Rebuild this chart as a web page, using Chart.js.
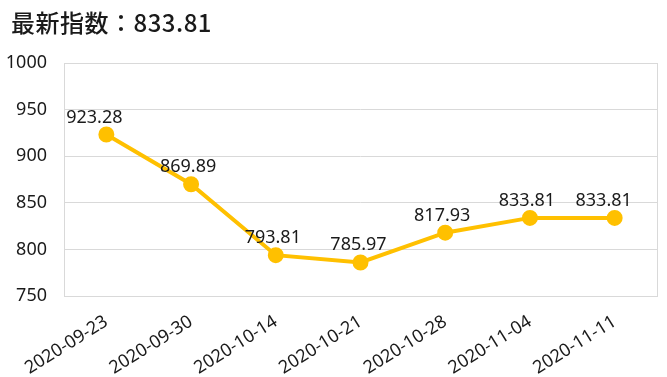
<!DOCTYPE html>
<html>
<head>
<meta charset="utf-8">
<script src="https://cdn.jsdelivr.net/npm/chart.js@4/dist/chart.umd.min.js"></script>
<style>
  html, body { margin: 0; padding: 0; background: #fff; }
  #wrap { width: 667px; height: 377px; position: relative; }
</style>
</head>
<body>
<div id="wrap"><canvas id="c" width="667" height="377"></canvas></div>
<script>
const titleText = "最新指数：833.81";
const categories = ["2020-09-23", "2020-09-30", "2020-10-14", "2020-10-21", "2020-10-28", "2020-11-04", "2020-11-11"];
const indexValues = [923.28, 869.89, 793.81, 785.97, 817.93, 833.81, 833.81];
const yTicks = [750, 800, 850, 900, 950, 1000];

const FONT = '"Noto Sans", "Noto Sans CJK SC", sans-serif';
const TITLE_FONT = '"Noto Sans CJK JP", "Noto Sans CJK SC", sans-serif';
const LINE_COLOR = '#FFC000';

// horizontal nudges of the value labels (pixels), as placed in the original
const labelNudge = [-12, -3, -3, -2, -3, -3, -11];

const labelPlugin = {
  id: 'pointLabels',
  afterDatasetsDraw(chart) {
    const ctx = chart.ctx;
    const meta = chart.getDatasetMeta(0);
    ctx.save();
    ctx.font = '18px ' + FONT;
    ctx.fillStyle = '#1a1a1a';
    ctx.textAlign = 'center';
    ctx.textBaseline = 'alphabetic';
    meta.data.forEach((pt, i) => {
      ctx.fillText(indexValues[i].toFixed(2), pt.x + labelNudge[i], pt.y - 12);
    });
    ctx.restore();
  }
};

const titlePlugin = {
  id: 'topTitle',
  afterDraw(chart) {
    const ctx = chart.ctx;
    ctx.save();
    ctx.font = '500 24px ' + TITLE_FONT;
    if ('letterSpacing' in ctx) ctx.letterSpacing = '0.5px';
    ctx.fillStyle = '#1a1a1a';
    ctx.textAlign = 'left';
    ctx.textBaseline = 'middle';
    ctx.fillText(titleText, 11, 23);
    ctx.restore();
  }
};

const borderPlugin = {
  id: 'areaBorder',
  beforeDatasetsDraw(chart) {
    const a = chart.chartArea;
    const ctx = chart.ctx;
    ctx.save();
    ctx.strokeStyle = '#d9d9d9';
    ctx.lineWidth = 1;
    ctx.strokeRect(Math.round(a.left) + 0.5, Math.round(a.top) + 0.5, Math.round(a.right - a.left), Math.round(a.bottom - a.top));
    ctx.restore();
  }
};

new Chart(document.getElementById('c'), {
  type: 'line',
  data: {
    labels: categories,
    datasets: [{
      data: indexValues,
      borderColor: LINE_COLOR,
      backgroundColor: LINE_COLOR,
      borderWidth: 4,
      pointRadius: 6,
      pointHoverRadius: 6,
      pointBackgroundColor: LINE_COLOR,
      pointBorderColor: LINE_COLOR,
      tension: 0,
      fill: false
    }]
  },
  options: {
    responsive: false,
    animation: false,
    devicePixelRatio: 1,
    layout: { padding: { left: 0, right: 5, top: 63, bottom: 0 } },
    plugins: {
      legend: { display: false },
      tooltip: { enabled: false },
      title: { display: false }
    },
    scales: {
      x: {
        offset: true,
        grid: { display: false, drawTicks: false },
        border: { display: false },
        ticks: {
          color: '#1a1a1a',
          font: { family: FONT, size: 18 },
          minRotation: 32,
          maxRotation: 32,
          padding: 15,
          autoSkip: false
        },
        afterFit(scale) { scale.height = 81; }
      },
      y: {
        min: yTicks[0],
        max: yTicks[yTicks.length - 1],
        grid: { color: '#d9d9d9', drawTicks: false },
        border: { display: false },
        ticks: {
          stepSize: yTicks[1] - yTicks[0],
          color: '#1a1a1a',
          font: { family: FONT, size: 18 },
          padding: 17,
          callback: (v) => String(v)
        },
        afterBuildTicks(scale) { scale.ticks = yTicks.map(v => ({ value: v })); },
        afterFit(scale) { scale.width = 64; }
      }
    }
  },
  plugins: [borderPlugin, labelPlugin, titlePlugin]
});
</script>
</body>
</html>
